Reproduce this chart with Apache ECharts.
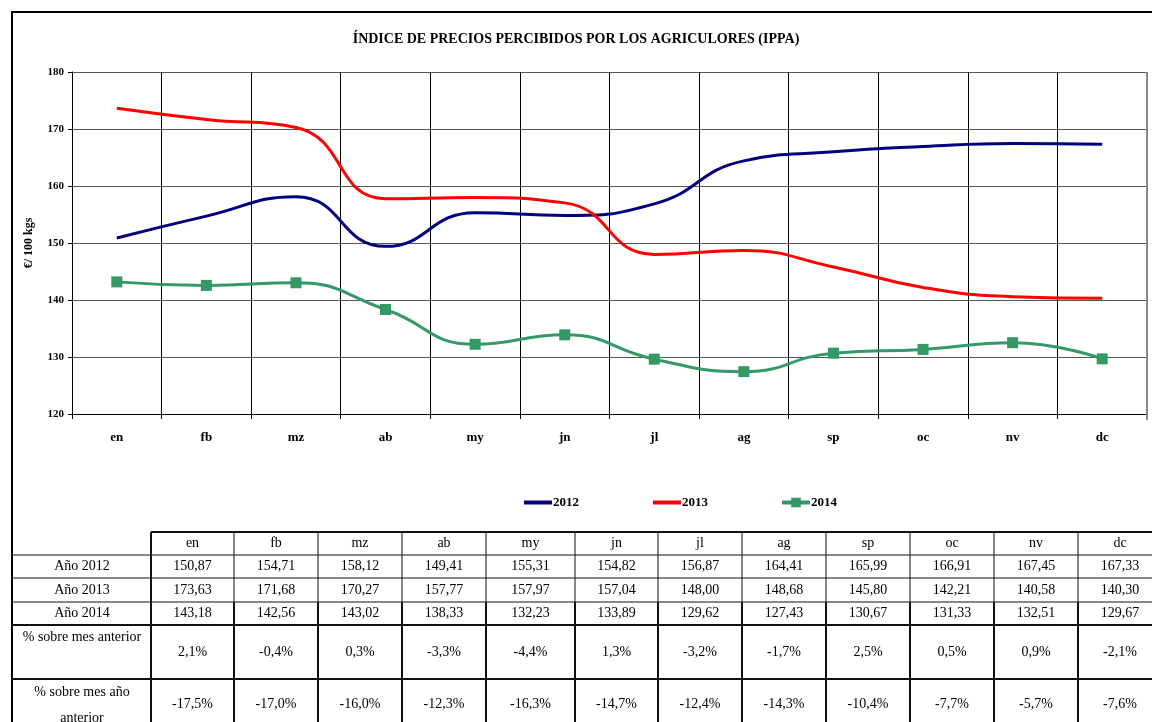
<!DOCTYPE html>
<html>
<head>
<meta charset="utf-8">
<title>IPPA</title>
<script src="https://cdn.jsdelivr.net/npm/echarts@6/dist/echarts.min.js"></script>
<style>
  html, body { margin: 0; padding: 0; background: #fff; }
  #chart { width: 1152px; height: 722px; }
</style>
</head>
<body>
<div id="chart"></div>
<script>
// Months (category axis and table header)
const months = ['en', 'fb', 'mz', 'ab', 'my', 'jn', 'jl', 'ag', 'sp', 'oc', 'nv', 'dc'];

// Index values (€/100 kg)
const y2012 = [150.87, 154.71, 158.12, 149.41, 155.31, 154.82, 156.87, 164.41, 165.99, 166.91, 167.45, 167.33];
const y2013 = [173.63, 171.68, 170.27, 157.77, 157.97, 157.04, 148.00, 148.68, 145.80, 142.21, 140.58, 140.30];
const y2014 = [143.18, 142.56, 143.02, 138.33, 132.23, 133.89, 129.62, 127.43, 130.67, 131.33, 132.51, 129.67];

// Percent changes shown in the table
const pctPrevMonth = [2.1, -0.4, 0.3, -3.3, -4.4, 1.3, -3.2, -1.7, 2.5, 0.5, 0.9, -2.1];
const pctPrevYear = [-17.5, -17.0, -16.0, -12.3, -16.3, -14.7, -12.4, -14.3, -10.4, -7.7, -5.7, -7.6];

// Value axis range
const yMin = 120;
const yMax = 180;
const yStep = 10;

const seriesNames = ['2012', '2013', '2014'];
const rowLabels = ['Año 2012', 'Año 2013', 'Año 2014'];

// ---- layout of the data table below the chart ----
const SERIF = '"Liberation Serif", "DejaVu Serif", serif';
const colX = [151, 234, 318, 402, 486, 575, 658, 742, 826, 910, 994, 1078, 1162];
const rowY = [532, 555, 578, 602, 625, 679, 745];
const labelCx = 82;

const fmtNum = v => v.toFixed(2).replace('.', ',');
const fmtPct = v => v.toFixed(1).replace('.', ',') + '%';

function hLine(x1, x2, y, w) {
  return { type: 'line', z: 10, silent: true,
    shape: { x1: x1, y1: y, x2: x2, y2: y },
    style: { stroke: '#111', lineWidth: w } };
}
function vLine(x, y1, y2, w) {
  return { type: 'line', z: 10, silent: true,
    shape: { x1: x, y1: y1, x2: x, y2: y2 },
    style: { stroke: '#111', lineWidth: w } };
}
function cellText(str, x, y) {
  return { type: 'text', z: 11, silent: true,
    style: { text: str, x: x, y: y, align: 'center', verticalAlign: 'middle',
      font: '14px ' + SERIF, fill: '#000' } };
}

function buildTable() {
  const els = [];
  const right = 1152;
  // horizontal rules
  els.push(hLine(colX[0], right, rowY[0], 2));
  els.push(hLine(12, right, rowY[1], 1));
  els.push(hLine(12, right, rowY[2], 1));
  els.push(hLine(12, right, rowY[3], 1));
  els.push(hLine(12, right, rowY[4], 2));
  els.push(hLine(12, right, rowY[5], 2));
  // vertical rules
  colX.forEach((x, i) => {
    els.push(vLine(x, rowY[0], rowY[3], i === 0 ? 2 : 1));
    els.push(vLine(x, rowY[3], rowY[6], 2));
  });
  const rows = [y2012, y2013, y2014];
  months.forEach((m, i) => {
    const cx = (colX[i] + colX[i + 1]) / 2;
    els.push(cellText(m, cx, (rowY[0] + rowY[1]) / 2));
    rows.forEach((arr, r) => {
      els.push(cellText(fmtNum(arr[i]), cx, (rowY[r + 1] + rowY[r + 2]) / 2));
    });
    els.push(cellText(fmtPct(pctPrevMonth[i]), cx, (rowY[4] + rowY[5]) / 2));
    els.push(cellText(fmtPct(pctPrevYear[i]), cx, 704));
  });
  rowLabels.forEach((lab, r) => {
    els.push(cellText(lab, labelCx, (rowY[r + 1] + rowY[r + 2]) / 2));
  });
  els.push(cellText('% sobre mes anterior', labelCx, 637));
  els.push(cellText('% sobre mes año', labelCx, 692));
  els.push(cellText('anterior', labelCx, 718));
  return els;
}

const chart = echarts.init(document.getElementById('chart'), null, { renderer: 'canvas' });

const option = {
  animation: false,
  backgroundColor: '#fff',
  title: {
    text: 'ÍNDICE DE PRECIOS PERCIBIDOS POR LOS AGRICULORES (IPPA)',
    left: 571, top: 27, textAlign: 'center',
    textStyle: { fontFamily: SERIF, fontWeight: 'bold', fontSize: 14, color: '#000' }
  },
  legend: {
    data: [
      { name: seriesNames[0], itemStyle: { opacity: 0 }, lineStyle: { width: 4 } },
      { name: seriesNames[1], itemStyle: { opacity: 0 }, lineStyle: { width: 4 } },
      { name: seriesNames[2], lineStyle: { width: 4 } }
    ],
    left: 517, top: 491,
    itemWidth: 28, itemHeight: 12, itemGap: 72,
    textStyle: { fontFamily: SERIF, fontWeight: 'bold', fontSize: 13, color: '#000', padding: [0, 0, 0, -4] }
  },
  grid: { left: 72, top: 72, right: 5, bottom: 308, containLabel: false },
  xAxis: {
    type: 'category',
    data: months,
    boundaryGap: true,
    axisLine: { lineStyle: { color: '#000', width: 1 } },
    axisTick: { show: true, length: 5, lineStyle: { color: '#000' } },
    axisLabel: { fontFamily: SERIF, fontWeight: 'bold', fontSize: 13, color: '#000', margin: 17 },
    splitLine: { show: true, lineStyle: { color: '#000', width: 1 } }
  },
  yAxis: {
    type: 'value',
    min: yMin, max: yMax, interval: yStep,
    name: '€/ 100 kgs',
    nameLocation: 'middle',
    nameRotate: 90,
    nameGap: 37,
    nameTextStyle: { fontFamily: SERIF, fontWeight: 'bold', fontSize: 12, color: '#000' },
    axisLine: { show: true, lineStyle: { color: '#000', width: 1 } },
    axisTick: { show: true, length: 4, lineStyle: { color: '#000' } },
    axisLabel: { fontFamily: SERIF, fontWeight: 'bold', fontSize: 11, color: '#000', margin: 8 },
    splitLine: { show: true, lineStyle: { color: '#555', width: 1 } }
  },
  series: [
    { name: seriesNames[0], type: 'line', data: y2012, smooth: 0.5,
      symbol: 'none', lineStyle: { color: '#000080', width: 3 }, itemStyle: { color: '#000080' } },
    { name: seriesNames[1], type: 'line', data: y2013, smooth: 0.5,
      symbol: 'none', lineStyle: { color: '#ff0000', width: 3 }, itemStyle: { color: '#ff0000' } },
    { name: seriesNames[2], type: 'line', data: y2014, smooth: 0.5,
      symbol: 'rect', symbolSize: 11, showSymbol: true,
      lineStyle: { color: '#339966', width: 3 }, itemStyle: { color: '#339966' } }
  ],
  graphic: [
    // outer frame
    { type: 'rect', z: 5, silent: true,
      shape: { x: 12, y: 12, width: 1160, height: 730 },
      style: { fill: 'none', stroke: '#000', lineWidth: 2 } },
    // plot area right border
    { type: 'line', z: 50, silent: true,
      shape: { x1: 1147, y1: 72, x2: 1147, y2: 420 },
      style: { stroke: '#888', lineWidth: 2 } }
  ].concat(buildTable())
};

chart.setOption(option);
</script>
</body>
</html>
